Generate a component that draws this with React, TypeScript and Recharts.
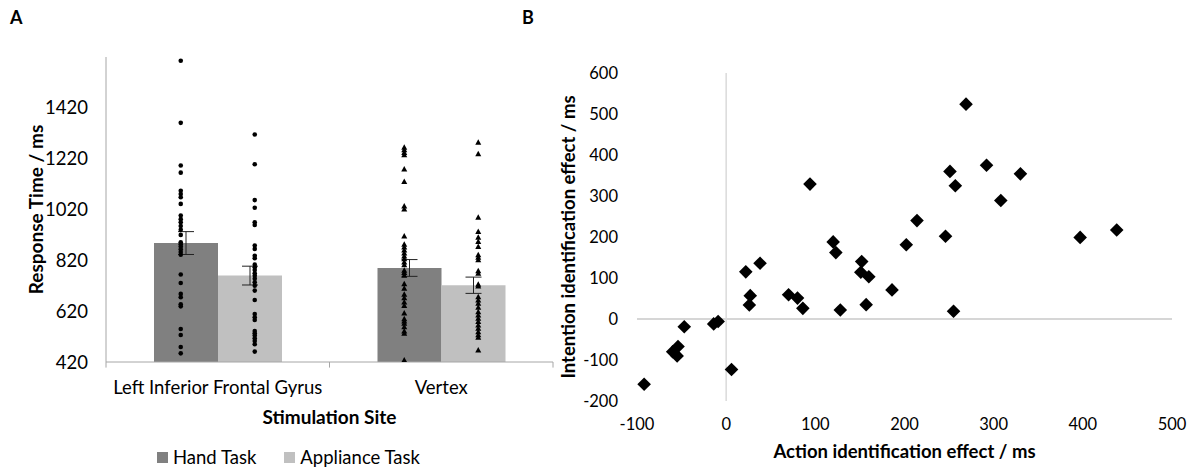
import {
  Bar,
  ComposedChart,
  ErrorBar,
  Legend,
  ReferenceLine,
  Scatter,
  ScatterChart,
  XAxis,
  YAxis,
} from "recharts";

const sites = ["Left Inferior Frontal Gyrus", "Vertex"];
const taskNames = ["Hand Task", "Appliance Task"];
const handMeans = [888, 790];
const handErrors = [45, 33];
const applianceMeans = [760, 722];
const applianceErrors = [37, 32];

// individual participants, ms
const lifgHand = [
  1605, 1361, 1193, 1165, 1094, 1081, 1068, 1042, 996, 982, 970, 955, 940, 920, 891,
  883, 874, 864, 853, 842, 764, 731, 688, 675, 647, 639, 550, 526, 479, 454,
];
const lifgAppliance = [
  1315, 1198, 1057, 1027, 970, 959, 878, 865, 838, 828, 803, 793, 782, 769, 759, 748,
  734, 720, 701, 664, 609, 596, 585, 542, 533, 524, 513, 503, 490, 461,
];
const vertexHand = [
  1265, 1255, 1244, 1235, 1179, 1130, 1034, 1022, 916, 883, 872, 861, 849, 837, 826,
  813, 803, 781, 772, 761, 728, 710, 687, 673, 656, 642, 613, 590, 581, 572, 559, 542,
  533, 428,
];
const vertexAppliance = [
  1285, 1239, 990, 933, 911, 894, 874, 842, 832, 822, 779, 769, 726, 719, 677, 664,
  651, 635, 618, 605, 592, 579, 566, 553, 539, 527, 517, 467,
];
const rtTicks = [420, 620, 820, 1020, 1220, 1420];

const actionEffect = [
  -92, -60, -54, -55, -47, -14, -9, 6, 22, 27, 26, 38, 70, 80, 86, 94, 120, 123, 128,
  152, 151, 160, 157, 186, 202, 214, 246, 251, 257, 255, 269, 292, 308, 330, 397, 438,
];
const intentionEffect = [
  -159, -80, -67, -90, -19, -12, -6, -123, 115, 57, 34, 136, 59, 51, 26, 329, 188, 162,
  22, 140, 114, 103, 35, 71, 181, 240, 202, 360, 325, 19, 524, 375, 289, 354, 199, 217,
];
const effectXTicks = [-100, 0, 100, 200, 300, 400, 500];
const effectYTicks = [-200, -100, 0, 100, 200, 300, 400, 500, 600];

const font = "Lato, 'Noto Sans', sans-serif";
const tickStyle = { fill: "#000", fontSize: 18.5, fontFamily: font };
const titleStyle = { fill: "#000", fontSize: 19, fontWeight: 700, fontFamily: font };

const barData = sites.map((site, i) => ({
  site,
  hand: handMeans[i],
  handErr: handErrors[i],
  appliance: applianceMeans[i],
  applianceErr: applianceErrors[i],
}));

const toDots = (site: string, values: number[]) => values.map((rt) => ({ site, rt }));

const scatterData = actionEffect.map((x, i) => ({ x, y: intentionEffect[i] }));

const BAR = 64;
const DOT_SHIFT = BAR / 2 + 5;

function roundDot(dx: number) {
  return (props: any) => <circle cx={props.cx + dx} cy={props.cy} r={2.3} fill="#000" />;
}

function triangleDot(dx: number) {
  return (props: any) => {
    const x = props.cx + dx;
    const y = props.cy;
    return <polygon points={`${x},${y - 3} ${x - 3},${y + 2.5} ${x + 3},${y + 2.5}`} fill="#000" />;
  };
}

function diamond(props: any) {
  const { cx, cy } = props;
  const r = 6.8;
  return <polygon points={`${cx},${cy - r} ${cx + r},${cy} ${cx},${cy + r} ${cx - r},${cy}`} fill="#000" />;
}

function renderLegend(props: any) {
  const all = props.payload || [];
  const items = taskNames
    .map((name) => all.find((p: any) => p.value === name))
    .filter(Boolean);
  return (
    <div style={{ display: "flex", paddingLeft: 157, fontFamily: font, fontSize: 18.5, color: "#000" }}>
      {items.map((item: any, i: number) => (
        <div key={item.value} style={{ display: "flex", alignItems: "center", marginRight: i === 0 ? 28 : 0 }}>
          <span style={{ width: 11, height: 11, background: item.color, marginRight: 5, display: "inline-block" }} />
          <span>{item.value}</span>
        </div>
      ))}
    </div>
  );
}

function PanelA() {
  return (
    <ComposedChart
      width={560}
      height={472}
      data={barData}
      margin={{ top: 57, right: 7, bottom: 48, left: 0 }}
      barGap={0}
    >
      <XAxis
        dataKey="site"
        allowDuplicatedCategory={false}
        stroke="#a6a6a6"
        tickLine={false}
        tickSize={0}
        tickMargin={19}
        tick={tickStyle}
        height={62}
        label={{ value: "Stimulation Site", position: "insideBottom", offset: 0, style: titleStyle }}
      />
      <YAxis
        domain={[420, 1620]}
        ticks={rtTicks}
        allowDataOverflow
        stroke="#a6a6a6"
        tickLine={false}
        tickSize={0}
        tickMargin={18}
        tick={tickStyle}
        width={106}
        label={{
          value: "Response Time / ms",
          angle: -90,
          position: "insideLeft",
          offset: 36,
          style: { ...titleStyle, textAnchor: "middle" },
        }}
      />
      <ReferenceLine segment={[{ x: sites[0], y: 420 }, { x: sites[0], y: 398 }]} position="start" ifOverflow="visible" stroke="#a6a6a6" />
      <ReferenceLine segment={[{ x: sites[1], y: 420 }, { x: sites[1], y: 398 }]} position="start" ifOverflow="visible" stroke="#a6a6a6" />
      <ReferenceLine segment={[{ x: sites[1], y: 420 }, { x: sites[1], y: 398 }]} position="end" ifOverflow="visible" stroke="#a6a6a6" />
      <Legend layout="horizontal" verticalAlign="middle" align="center" wrapperStyle={{ top: 446, left: 0, width: 560 }} content={renderLegend} />
      <Bar dataKey="hand" name={taskNames[0]} fill="#808080" barSize={BAR} isAnimationActive={false}>
        <ErrorBar dataKey="handErr" width={8} stroke="#222" strokeWidth={1} direction="y" />
      </Bar>
      <Bar dataKey="appliance" name={taskNames[1]} fill="#c0c0c0" barSize={BAR} isAnimationActive={false}>
        <ErrorBar dataKey="applianceErr" width={8} stroke="#222" strokeWidth={1} direction="y" />
      </Bar>
      <Scatter data={toDots(sites[0], lifgHand)} dataKey="rt" shape={roundDot(-DOT_SHIFT)} legendType="none" isAnimationActive={false} />
      <Scatter data={toDots(sites[0], lifgAppliance)} dataKey="rt" shape={roundDot(DOT_SHIFT)} legendType="none" isAnimationActive={false} />
      <Scatter data={toDots(sites[1], vertexHand)} dataKey="rt" shape={triangleDot(-DOT_SHIFT)} legendType="none" isAnimationActive={false} />
      <Scatter data={toDots(sites[1], vertexAppliance)} dataKey="rt" shape={triangleDot(DOT_SHIFT)} legendType="none" isAnimationActive={false} />
    </ComposedChart>
  );
}

function PanelB() {
  return (
    <ScatterChart width={650} height={472} margin={{ top: 73, right: 23, bottom: 14, left: 0 }}>
      <XAxis
        type="number"
        dataKey="x"
        domain={[-100, 500]}
        ticks={effectXTicks}
        axisLine={false}
        tickLine={false}
        tickSize={0}
        tickMargin={17}
        tick={{ ...tickStyle, fontSize: 16.5 }}
        height={57}
        label={{ value: "Action identification effect / ms", position: "insideBottom", offset: 0, style: { ...titleStyle, fontSize: 18.5 } }}
      />
      <YAxis
        type="number"
        dataKey="y"
        domain={[-200, 600]}
        ticks={effectYTicks}
        axisLine={false}
        tickLine={false}
        tickSize={0}
        tickMargin={19}
        tick={{ ...tickStyle, fontSize: 16.5 }}
        width={92}
        label={{
          value: "Intention identification effect / ms",
          angle: -90,
          position: "insideLeft",
          offset: 23,
          style: { ...titleStyle, fontSize: 18.5, textAnchor: "middle" },
        }}
      />
      <ReferenceLine y={0} stroke="#c8c8c8" strokeWidth={1.5} />
      <ReferenceLine x={0} stroke="#dadada" strokeWidth={1.5} />
      <Scatter data={scatterData} shape={diamond} isAnimationActive={false} />
    </ScatterChart>
  );
}

export default function App() {
  const panelLetter = { position: "absolute" as const, fontFamily: font, fontWeight: 700, fontSize: 18, color: "#000" };
  return (
    <div style={{ position: "relative", width: 1195, height: 472, background: "#fff", fontFamily: font }}>
      <style>{"body{margin:0}"}</style>
      <div style={{ ...panelLetter, left: 10, top: 6 }}>A</div>
      <div style={{ ...panelLetter, left: 522, top: 6 }}>B</div>
      <div style={{ position: "absolute", left: 0, top: 0 }}>
        <PanelA />
      </div>
      <div style={{ position: "absolute", left: 545, top: 0 }}>
        <PanelB />
      </div>
    </div>
  );
}
